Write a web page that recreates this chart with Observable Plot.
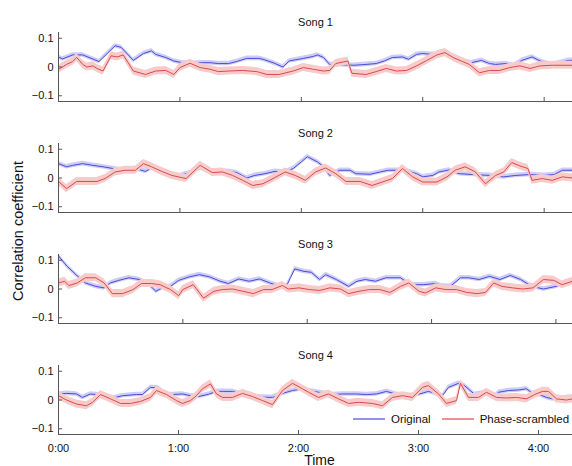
<!DOCTYPE html>
<html><head><meta charset="utf-8">
<script src="https://cdn.jsdelivr.net/npm/d3@7"></script>
<script src="https://cdn.jsdelivr.net/npm/@observablehq/plot@0.6"></script>
<style>
body{margin:0;background:#fff;font-family:"Liberation Sans",Arial,Helvetica,sans-serif;}
#chart{position:relative;width:572px;height:466px;overflow:hidden;background:#fff}
#chart > svg{display:block}
.ylab{position:absolute;left:18px;top:231px;transform:translate(-50%,-50%) rotate(-90deg);font-size:14.5px;white-space:nowrap;color:#111}
.legend{position:absolute;top:412px;left:353px;height:14px;font-size:11.5px;display:flex;align-items:center;color:#111;white-space:nowrap}
.legend svg{display:inline-block;margin-right:6px}
</style>
</head><body>
<div id="chart"></div>
<script>
const songs = ["Song 1", "Song 2", "Song 3", "Song 4"];
const durations = [254, 254, 248, 257];
const seriesNames = ["Original", "Phase-scrambled"];
const yTicks = [-0.1, 0, 0.1];
const xTicks = [0, 60, 120, 180, 240];
const xTickLabels = ["0:00", "1:00", "2:00", "3:00", "4:00"];

const s1Original = [[0,0.035],[2,0.028],[7,0.042],[12,0.042],[20,0.019],[28,0.074],[31,0.068],[37,0.023],[42,0.047],[46,0.056],[48,0.044],[53,0.033],[57,0.021],[61,0.015],[66,0.012],[71,0.015],[75,0.015],[79,0.012],[84,0.012],[88,0.019],[93,0.030],[99,0.030],[101,0.027],[106,0.015],[111,0.000],[114,0.021],[121,0.030],[126,0.037],[128,0.042],[131,0.033],[134,0.009],[138,0.008],[143,0.007],[146,0.006],[152,0.009],[157,0.012],[161,0.021],[165,0.033],[170,0.035],[173,0.027],[177,0.044],[180,0.047],[184,0.044],[187,0.045],[191,0.050],[195,0.035],[199,0.022],[204,0.015],[209,0.023],[213,0.012],[216,0.009],[221,0.012],[225,0.005],[229,0.023],[234,0.035],[238,0.021],[244,0.008],[252,0.023],[254,0.023]];
const s1Scrambled = [[0,-0.008],[4,0.009],[7,0.019],[9,0.033],[12,0.009],[14,0.000],[17,0.004],[19,-0.005],[22,-0.014],[26,0.039],[29,0.035],[32,0.042],[37,-0.014],[43,-0.026],[48,-0.014],[53,-0.012],[57,-0.026],[60,-0.002],[65,0.013],[70,-0.002],[75,-0.008],[79,-0.016],[84,-0.014],[91,-0.012],[98,-0.016],[103,-0.026],[109,-0.026],[116,-0.014],[121,-0.002],[126,-0.008],[131,-0.014],[134,-0.012],[137,0.012],[143,0.021],[145,-0.022],[152,-0.026],[157,-0.016],[162,-0.005],[167,-0.014],[172,-0.012],[177,0.004],[182,0.023],[187,0.042],[191,0.050],[195,0.033],[199,0.021],[203,0.009],[208,-0.020],[213,-0.012],[218,-0.012],[223,-0.002],[228,0.004],[233,-0.005],[238,0.004],[244,0.006],[254,0.006]];

const s2Original = [[0,0.050],[4,0.039],[7,0.044],[12,0.050],[17,0.044],[22,0.039],[27,0.033],[32,0.027],[35,0.027],[38,0.033],[43,0.023],[46,0.035],[51,0.022],[56,0.010],[60,0.008],[63,0.015],[66,0.020],[70,0.035],[75,0.022],[78,0.023],[84,0.023],[88,0.019],[93,0.000],[97,0.009],[102,0.015],[107,0.023],[112,0.021],[116,0.033],[120,0.056],[123,0.074],[128,0.056],[131,0.039],[134,0.009],[139,0.027],[144,0.027],[147,0.015],[154,0.013],[159,0.021],[163,0.027],[171,0.027],[177,0.015],[180,0.004],[185,0.009],[188,0.021],[193,0.028],[198,0.015],[205,0.012],[213,0.009],[220,0.004],[226,0.009],[233,0.012],[237,0.010],[240,0.009],[245,0.012],[249,0.027],[254,0.027]];
const s2Scrambled = [[0,-0.012],[4,-0.037],[9,-0.012],[14,-0.012],[19,-0.012],[23,-0.002],[28,0.021],[33,0.027],[38,0.027],[42,0.050],[46,0.039],[51,0.023],[56,0.009],[63,-0.002],[70,0.044],[76,0.019],[81,0.021],[86,0.009],[91,-0.008],[96,-0.026],[101,-0.020],[106,-0.002],[112,0.021],[117,0.009],[122,-0.008],[127,0.021],[132,0.035],[137,0.015],[142,-0.012],[149,-0.012],[155,-0.026],[160,-0.014],[165,-0.002],[170,0.033],[175,0.004],[180,-0.014],[187,-0.014],[192,0.004],[196,0.027],[201,0.039],[206,0.021],[211,-0.020],[216,0.009],[220,0.021],[224,0.054],[228,0.042],[232,0.033],[234,-0.008],[239,-0.002],[244,-0.008],[249,0.004],[254,0.000]];

const s3Original = [[0,0.115],[4,0.080],[9,0.046],[13,0.021],[18,0.009],[22,0.004],[25,0.021],[29,0.030],[34,0.039],[39,0.033],[43,0.020],[47,-0.008],[50,0.004],[54,0.009],[58,0.030],[63,0.042],[68,0.050],[73,0.042],[78,0.027],[82,0.019],[87,0.035],[92,0.027],[97,0.035],[102,0.021],[107,0.009],[110,0.010],[112,0.040],[114,0.070],[118,0.062],[122,0.058],[126,0.033],[129,0.050],[134,0.033],[140,0.009],[144,0.027],[148,0.033],[153,0.027],[158,0.039],[165,0.039],[170,0.015],[176,0.015],[182,0.019],[185,0.010],[189,0.009],[194,0.039],[198,0.039],[203,0.033],[208,0.044],[213,0.033],[218,0.047],[223,0.033],[227,0.015],[231,0.005],[234,0.000],[240,0.009],[244,0.020],[248,0.027]];
const s3Scrambled = [[0,0.021],[3,0.027],[5,0.012],[9,0.021],[13,0.039],[18,0.039],[22,0.021],[26,-0.016],[31,-0.016],[36,-0.002],[40,0.019],[45,0.019],[49,0.015],[54,-0.002],[58,-0.023],[60,-0.002],[65,0.015],[70,-0.032],[75,-0.008],[79,-0.002],[84,0.000],[89,-0.008],[94,-0.016],[99,-0.002],[103,-0.002],[108,0.012],[111,0.000],[116,0.004],[121,-0.002],[126,-0.005],[131,0.004],[136,0.000],[140,-0.016],[145,-0.008],[150,-0.002],[155,-0.002],[160,-0.012],[165,0.009],[169,0.021],[174,-0.008],[177,-0.014],[182,0.004],[187,-0.002],[192,-0.002],[197,-0.012],[202,-0.016],[206,-0.012],[210,0.021],[214,0.009],[219,0.004],[224,0.000],[229,0.004],[234,0.033],[239,0.030],[243,0.015],[248,0.027]];

const s4Original = [[0,0.020],[4,0.023],[9,0.021],[12,0.009],[16,0.021],[19,0.019],[23,0.012],[28,0.008],[32,0.015],[39,0.019],[42,0.019],[46,0.044],[50,0.042],[54,0.019],[57,0.019],[62,0.021],[66,0.015],[70,0.012],[75,0.020],[79,0.030],[82,0.030],[87,0.030],[92,0.020],[97,0.012],[102,0.010],[107,0.009],[112,0.023],[117,0.033],[122,0.039],[125,0.033],[130,0.027],[137,0.019],[142,0.021],[149,0.021],[154,0.019],[159,0.021],[164,0.030],[169,0.020],[175,0.015],[180,0.020],[185,0.030],[190,0.020],[192,0.015],[195,0.044],[200,0.058],[203,0.050],[208,0.020],[213,0.025],[218,0.012],[220,0.027],[225,0.033],[230,0.035],[234,0.039],[237,0.023],[240,0.020],[244,0.009],[247,0.004],[251,0.006],[255,0.009],[257,0.009]];
const s4Scrambled = [[0,0.015],[4,0.000],[9,-0.014],[14,-0.020],[17,-0.008],[21,0.019],[26,0.004],[31,-0.012],[36,-0.012],[41,-0.005],[46,0.009],[49,0.033],[54,0.019],[59,-0.002],[62,-0.012],[66,-0.002],[69,0.015],[72,0.039],[76,0.056],[79,0.021],[82,0.009],[87,0.009],[92,0.023],[97,0.012],[102,-0.002],[107,-0.016],[112,0.033],[117,0.058],[122,0.039],[125,0.027],[130,0.009],[135,0.021],[140,0.004],[145,-0.012],[150,-0.008],[157,-0.012],[162,-0.020],[167,0.009],[172,0.015],[177,0.009],[182,0.044],[185,0.050],[190,0.021],[194,-0.012],[199,-0.002],[201,0.058],[205,0.009],[210,0.009],[214,0.027],[219,0.009],[224,0.007],[229,0.009],[234,0.004],[238,0.019],[242,0.030],[245,0.030],[249,0.004],[254,0.000],[257,0.004]];

const originals = [s1Original, s2Original, s3Original, s4Original];
const scrambleds = [s1Scrambled, s2Scrambled, s3Scrambled, s4Scrambled];

const blueLine = "#4a4ad8", blueBand = "#cdcdf7";
const redLine = "#d94a4c", redBand = "#f8cbcb";
const axisColor = "#555";
const fmtY = d => d === 0 ? "0" : (d < 0 ? "\u2212" : "") + Math.abs(d).toFixed(1);

const W = 572, ML = 58;
function panel(i) {
  const last = i === songs.length - 1;
  const orig = originals[i].map(([t, v]) => ({t, v}));
  const scr = scrambleds[i].map(([t, v]) => ({t, v}));
  const dur = durations[i];
  const tickLenX = dur * 4 / (W - ML);   // 4px in data units (x)
  const tickLenY = 0.24 * 4 / 69;        // 4px in data units (y)
  return Plot.plot({
    width: W, height: last ? 133 : 111,
    marginLeft: ML, marginRight: 0, marginTop: 32, marginBottom: last ? 32 : 10,
    style: {fontFamily: '"Liberation Sans", Arial, sans-serif', fontSize: "11px", color: "#111", background: "transparent", overflow: "visible"},
    x: {domain: [0, dur], axis: null},
    y: {domain: [-0.12, 0.12], axis: null},
    marks: [
      Plot.areaY(orig, {x: "t", y1: d => d.v - 0.008, y2: d => d.v + 0.008, fill: blueBand}),
      Plot.lineY(orig, {x: "t", y: "v", stroke: blueLine, strokeWidth: 1}),
      Plot.areaY(scr, {x: "t", y1: d => d.v - 0.014, y2: d => d.v + 0.014, fill: redBand}),
      Plot.lineY(scr, {x: "t", y: "v", stroke: redLine, strokeWidth: 1}),
      Plot.ruleX([0], {stroke: axisColor}),
      Plot.ruleY([-0.12], {stroke: axisColor}),
      Plot.ruleY(yTicks, {y: d => d, x1: 0, x2: tickLenX, stroke: axisColor}),
      Plot.ruleX(xTicks.slice(1), {x: d => d, y1: -0.12, y2: -0.12 + tickLenY, stroke: axisColor}),
      Plot.axisY({ticks: yTicks, tickSize: 0, tickPadding: 5, tickFormat: fmtY, label: null}),
      last ? Plot.axisX({ticks: xTicks, tickSize: 0, tickPadding: 10, tickFormat: d => xTickLabels[xTicks.indexOf(d)], label: null}) : null,
      Plot.text([songs[i]], {frameAnchor: "top", dy: -14, fontSize: 11, fill: "#111"}),
      last ? Plot.text(["Time"], {frameAnchor: "bottom", dy: 30, dx: 4, fontSize: 14, fill: "#111"}) : null
    ]
  });
}

const chart = document.getElementById("chart");
songs.forEach((s, i) => chart.appendChild(panel(i)));

const ylab = document.createElement("div");
ylab.className = "ylab";
ylab.textContent = "Correlation coefficient";
chart.appendChild(ylab);

const swatch = c => `<svg width="32" height="4"><line x1="0" y1="2" x2="32" y2="2" stroke="${c}" stroke-width="1.2"/></svg>`;
const legend = document.createElement("div");
legend.className = "legend";
legend.innerHTML =
  `${swatch(blueLine)}<span>${seriesNames[0]}</span>` +
  `<span style="width:11px;display:inline-block"></span>${swatch(redLine)}<span>${seriesNames[1]}</span>`;
chart.appendChild(legend);
</script>
</body></html>
